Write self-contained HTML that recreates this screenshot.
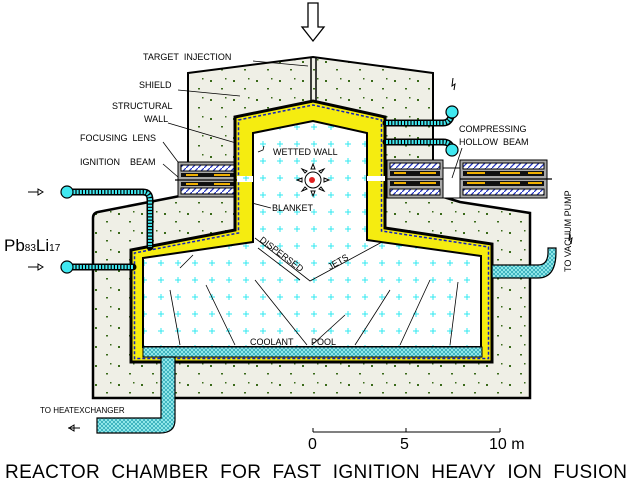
<!DOCTYPE html>
<html><head><meta charset="utf-8"><style>
body{margin:0;background:#fff}
svg{display:block}
text{font-family:"Liberation Sans",sans-serif;fill:#000}
</style></head><body>
<svg width="633" height="484" viewBox="0 0 633 484" xmlns="http://www.w3.org/2000/svg">
<defs>
<pattern id="conc" width="23" height="19" patternUnits="userSpaceOnUse">
<rect width="23" height="19" fill="#efefe6"/>
<rect x="3" y="4" width="2" height="2" fill="#3a6a1a"/>
<rect x="14" y="12" width="2" height="1.5" fill="#3a6a1a"/>
<rect x="18" y="2" width="1.5" height="1.5" fill="#3a6a1a"/>
</pattern>
<pattern id="cross" width="17" height="17" patternUnits="userSpaceOnUse">
<rect width="17" height="17" fill="#fff"/>
<path d="M8 5v6M5 8h6" stroke="#30e8f0" stroke-width="1"/>
</pattern>
<pattern id="hatch" width="4" height="4" patternUnits="userSpaceOnUse">
<rect width="4" height="4" fill="#9ef0f0"/>
<path d="M0 0l4 4M4 0l-4 4" stroke="#20a0b0" stroke-width="0.7"/>
</pattern>
<pattern id="lens" width="6" height="6" patternUnits="userSpaceOnUse">
<rect width="6" height="6" fill="#fff"/>
<path d="M0 6l6-6" stroke="#2030c0" stroke-width="1.2"/>
</pattern>
</defs>

<!-- top arrow -->
<path d="M308 3h10v24h6l-11 14-11-14h6z" fill="#fff" stroke="#000" stroke-width="1.3"/>

<!-- upper shield -->
<path d="M188 73L313 57L433 73V163H188Z" fill="url(#conc)" stroke="#000" stroke-width="2"/>
<!-- lower shield -->
<path d="M93 218Q93 213 98 212L185 195H437L460 202L530 213V398H93Z" fill="url(#conc)" stroke="#000" stroke-width="2.5"/>

<!-- lens boxes -->
<g stroke="#000" stroke-width="1">
<rect x="178" y="162" width="59" height="35" fill="#a8a8a8"/>
<rect x="181" y="165" width="53" height="6" fill="url(#lens)"/>
<rect x="181" y="188" width="53" height="6" fill="url(#lens)"/>
<rect x="387" y="160" width="56" height="38" fill="#a8a8a8"/>
<rect x="390" y="163" width="50" height="6" fill="url(#lens)"/>
<rect x="390" y="189" width="50" height="6" fill="url(#lens)"/>
<rect x="460" y="160" width="87" height="38" fill="#a8a8a8"/>
<rect x="463" y="163" width="81" height="6" fill="url(#lens)"/>
<rect x="463" y="189" width="81" height="6" fill="url(#lens)"/>
</g>
<g fill="#111">
<rect x="181" y="173" width="53" height="4"/><rect x="181" y="182" width="53" height="4"/>
<rect x="390" y="171" width="50" height="5"/><rect x="390" y="181" width="50" height="5"/>
<rect x="463" y="171" width="81" height="5"/><rect x="463" y="181" width="81" height="5"/>
</g>
<g fill="#f0b000">
<rect x="186" y="174" width="12" height="2"/><rect x="214" y="174" width="16" height="2"/>
<rect x="186" y="183" width="12" height="2"/><rect x="214" y="183" width="16" height="2"/>
<rect x="394" y="172" width="12" height="2"/><rect x="420" y="172" width="16" height="2"/>
<rect x="394" y="182" width="12" height="2"/><rect x="420" y="182" width="16" height="2"/>
<rect x="467" y="172" width="18" height="2"/><rect x="500" y="172" width="20" height="2"/><rect x="528" y="172" width="14" height="2"/>
<rect x="467" y="182" width="18" height="2"/><rect x="500" y="182" width="20" height="2"/><rect x="528" y="182" width="14" height="2"/>
</g>

<!-- vessel outer / blanket -->
<path d="M235 117L313 101L385 117V228L492 244V362H131V250L235 230Z" fill="#f5ec10" stroke="#000" stroke-width="3"/>
<path d="M238.5 120L313 105L381.5 120V231L488.5 247V358.5H134.5V253L238.5 233Z" fill="none" stroke="#1020c0" stroke-width="1.5" stroke-dasharray="3 2"/>
<!-- cavity -->
<path d="M253 133L313 121L367 133V240L481 256V347H143V258L253 242Z" fill="url(#cross)" stroke="#000" stroke-width="2"/>
<!-- coolant strip -->
<rect x="143" y="347" width="339" height="10" fill="url(#hatch)" stroke="#000" stroke-width="1"/>
<!-- target injection tube -->
<path d="M311 57V103M316 57V103" stroke="#000" stroke-width="1.5"/>

<!-- beam line -->
<path d="M175 180H253M367 179H552" stroke="#000" stroke-width="1.3"/>
<rect x="237" y="176" width="16" height="6" fill="url(#cross)"/>
<rect x="367" y="176" width="18" height="5" fill="#fff"/>
<rect x="443" y="168" width="17" height="30" fill="#fff" stroke="#000" stroke-width="1"/>

<!-- jet lines -->
<g stroke="#000" stroke-width="0.8" fill="none">
<path d="M255 238L310 281L382 242"/>
<path d="M170 290L180 345M206 285L235 345M255 280L307 345M345 315L312 345M390 290L355 345M430 280L400 345M458 282L450 345"/>
<path d="M180 268L193 255M258 248L300 280"/>
</g>

<!-- pipes -->
<g fill="none" stroke="#000" stroke-width="7" stroke-linecap="round">
<path d="M67 192H143Q150 192 150 200V247"/>
<path d="M67 267H133"/>
<path d="M386 123H443Q451 123 452 112"/>
<path d="M386 142H443Q451 142 452 150"/>
</g>
<g fill="none" stroke="#40e8f0" stroke-width="4" stroke-dasharray="2 1.2">
<path d="M67 192H143Q150 192 150 200V247"/>
<path d="M67 267H133"/>
<path d="M386 123H443Q451 123 452 112"/>
<path d="M386 142H443Q451 142 452 150"/>
</g>
<g fill="#40e8f0" stroke="#000" stroke-width="1.2">
<circle cx="67" cy="192" r="6"/><circle cx="67" cy="267" r="6"/>
<circle cx="452" cy="112" r="6"/><circle cx="452" cy="150" r="6"/>
</g>
<!-- vacuum pipe -->
<path d="M492 265H538Q548 265 548 252V248H556V252Q556 278 538 278H492Z" fill="url(#hatch)" stroke="#000" stroke-width="1.2"/>
<!-- heat exchanger pipe -->
<path d="M161 357H175V420Q175 433 160 433H97V418H161Z" fill="url(#hatch)" stroke="#000" stroke-width="1.2"/>

<!-- arrows -->
<g stroke="#000" stroke-width="1" fill="none">
<path d="M28 192H38M38 189l5 3-5 3z"/>
<path d="M28 267H38M38 264l5 3-5 3z"/>
<path d="M68 428H80M74 425l-5 3 5 3z"/>
<path d="M453 78l-1 8 3-2-1 6"/>
<path d="M570 232l-1 8 3-2-1 6"/>
</g>

<!-- target -->
<g stroke="#000" stroke-width="1" fill="#fff">
<circle cx="313" cy="180" r="8"/>
<path d="M313 164l-2 5h4zM313 196l-2-5h4zM297 180l5-2v4zM329 180l-5-2v4zM302 169l5 2-2 2zM324 169l-5 2 2 2zM302 191l5-2-2-2zM324 191l-5-2 2-2z"/>
</g>
<circle cx="312" cy="180" r="3" fill="#e02020"/>

<!-- leader lines -->
<g stroke="#000" stroke-width="0.8" fill="none">
<path d="M253 61L308 66"/>
<path d="M178 90L240 96"/>
<path d="M168 123L236 143"/>
<path d="M163 142L178 162"/>
<path d="M163 164L178 177"/>
<path d="M264 146L263 150L258 152"/>
<path d="M271 208L252 203"/>
<path d="M462 148L452 178"/>
</g>

<!-- labels -->
<g font-size="9">
<text x="143" y="60">TARGET&#160;&#160;INJECTION</text>
<text x="139" y="88">SHIELD</text>
<text x="112" y="109">STRUCTURAL</text>
<text x="144" y="122">WALL</text>
<text x="80" y="141">FOCUSING&#160;&#160;LENS</text>
<text x="80" y="165">IGNITION&#160;&#160;&#160;&#160;BEAM</text>
<text x="273" y="155">WETTED WALL</text>
<text x="272" y="211">BLANKET</text>
<text x="459" y="132">COMPRESSING</text>
<text x="459" y="145">HOLLOW&#160;&#160;BEAM</text>
<text x="250" y="345">COOLANT&#160;&#160;&#160;&#160;&#160;&#160;&#160;POOL</text>
<text font-size="8" x="40" y="413">TO HEATEXCHANGER</text>
<text transform="translate(259,241) rotate(37)">DISPERSED</text>
<text transform="translate(330,270) rotate(-30)">JETS</text>
<text transform="translate(571,272) rotate(-90)">TO VACUUM PUMP</text>
</g>
<text x="4" y="251" font-size="17">Pb<tspan font-size="10">83</tspan>Li<tspan font-size="10">17</tspan></text>

<!-- scale -->
<path d="M313 432H500M313 428V432M406 428V432M500 428V432" stroke="#000" stroke-width="1"/>
<text x="308" y="449" font-size="16">0</text>
<text x="400" y="449" font-size="16">5</text>
<text x="489" y="449" font-size="16">10 m</text>
<text x="5" y="478" font-size="19" textLength="622" lengthAdjust="spacing">REACTOR&#160;&#160;CHAMBER&#160;&#160;FOR&#160;&#160;FAST&#160;&#160;IGNITION&#160;&#160;HEAVY&#160;&#160;ION&#160;&#160;FUSION</text>
</svg>
</body></html>
